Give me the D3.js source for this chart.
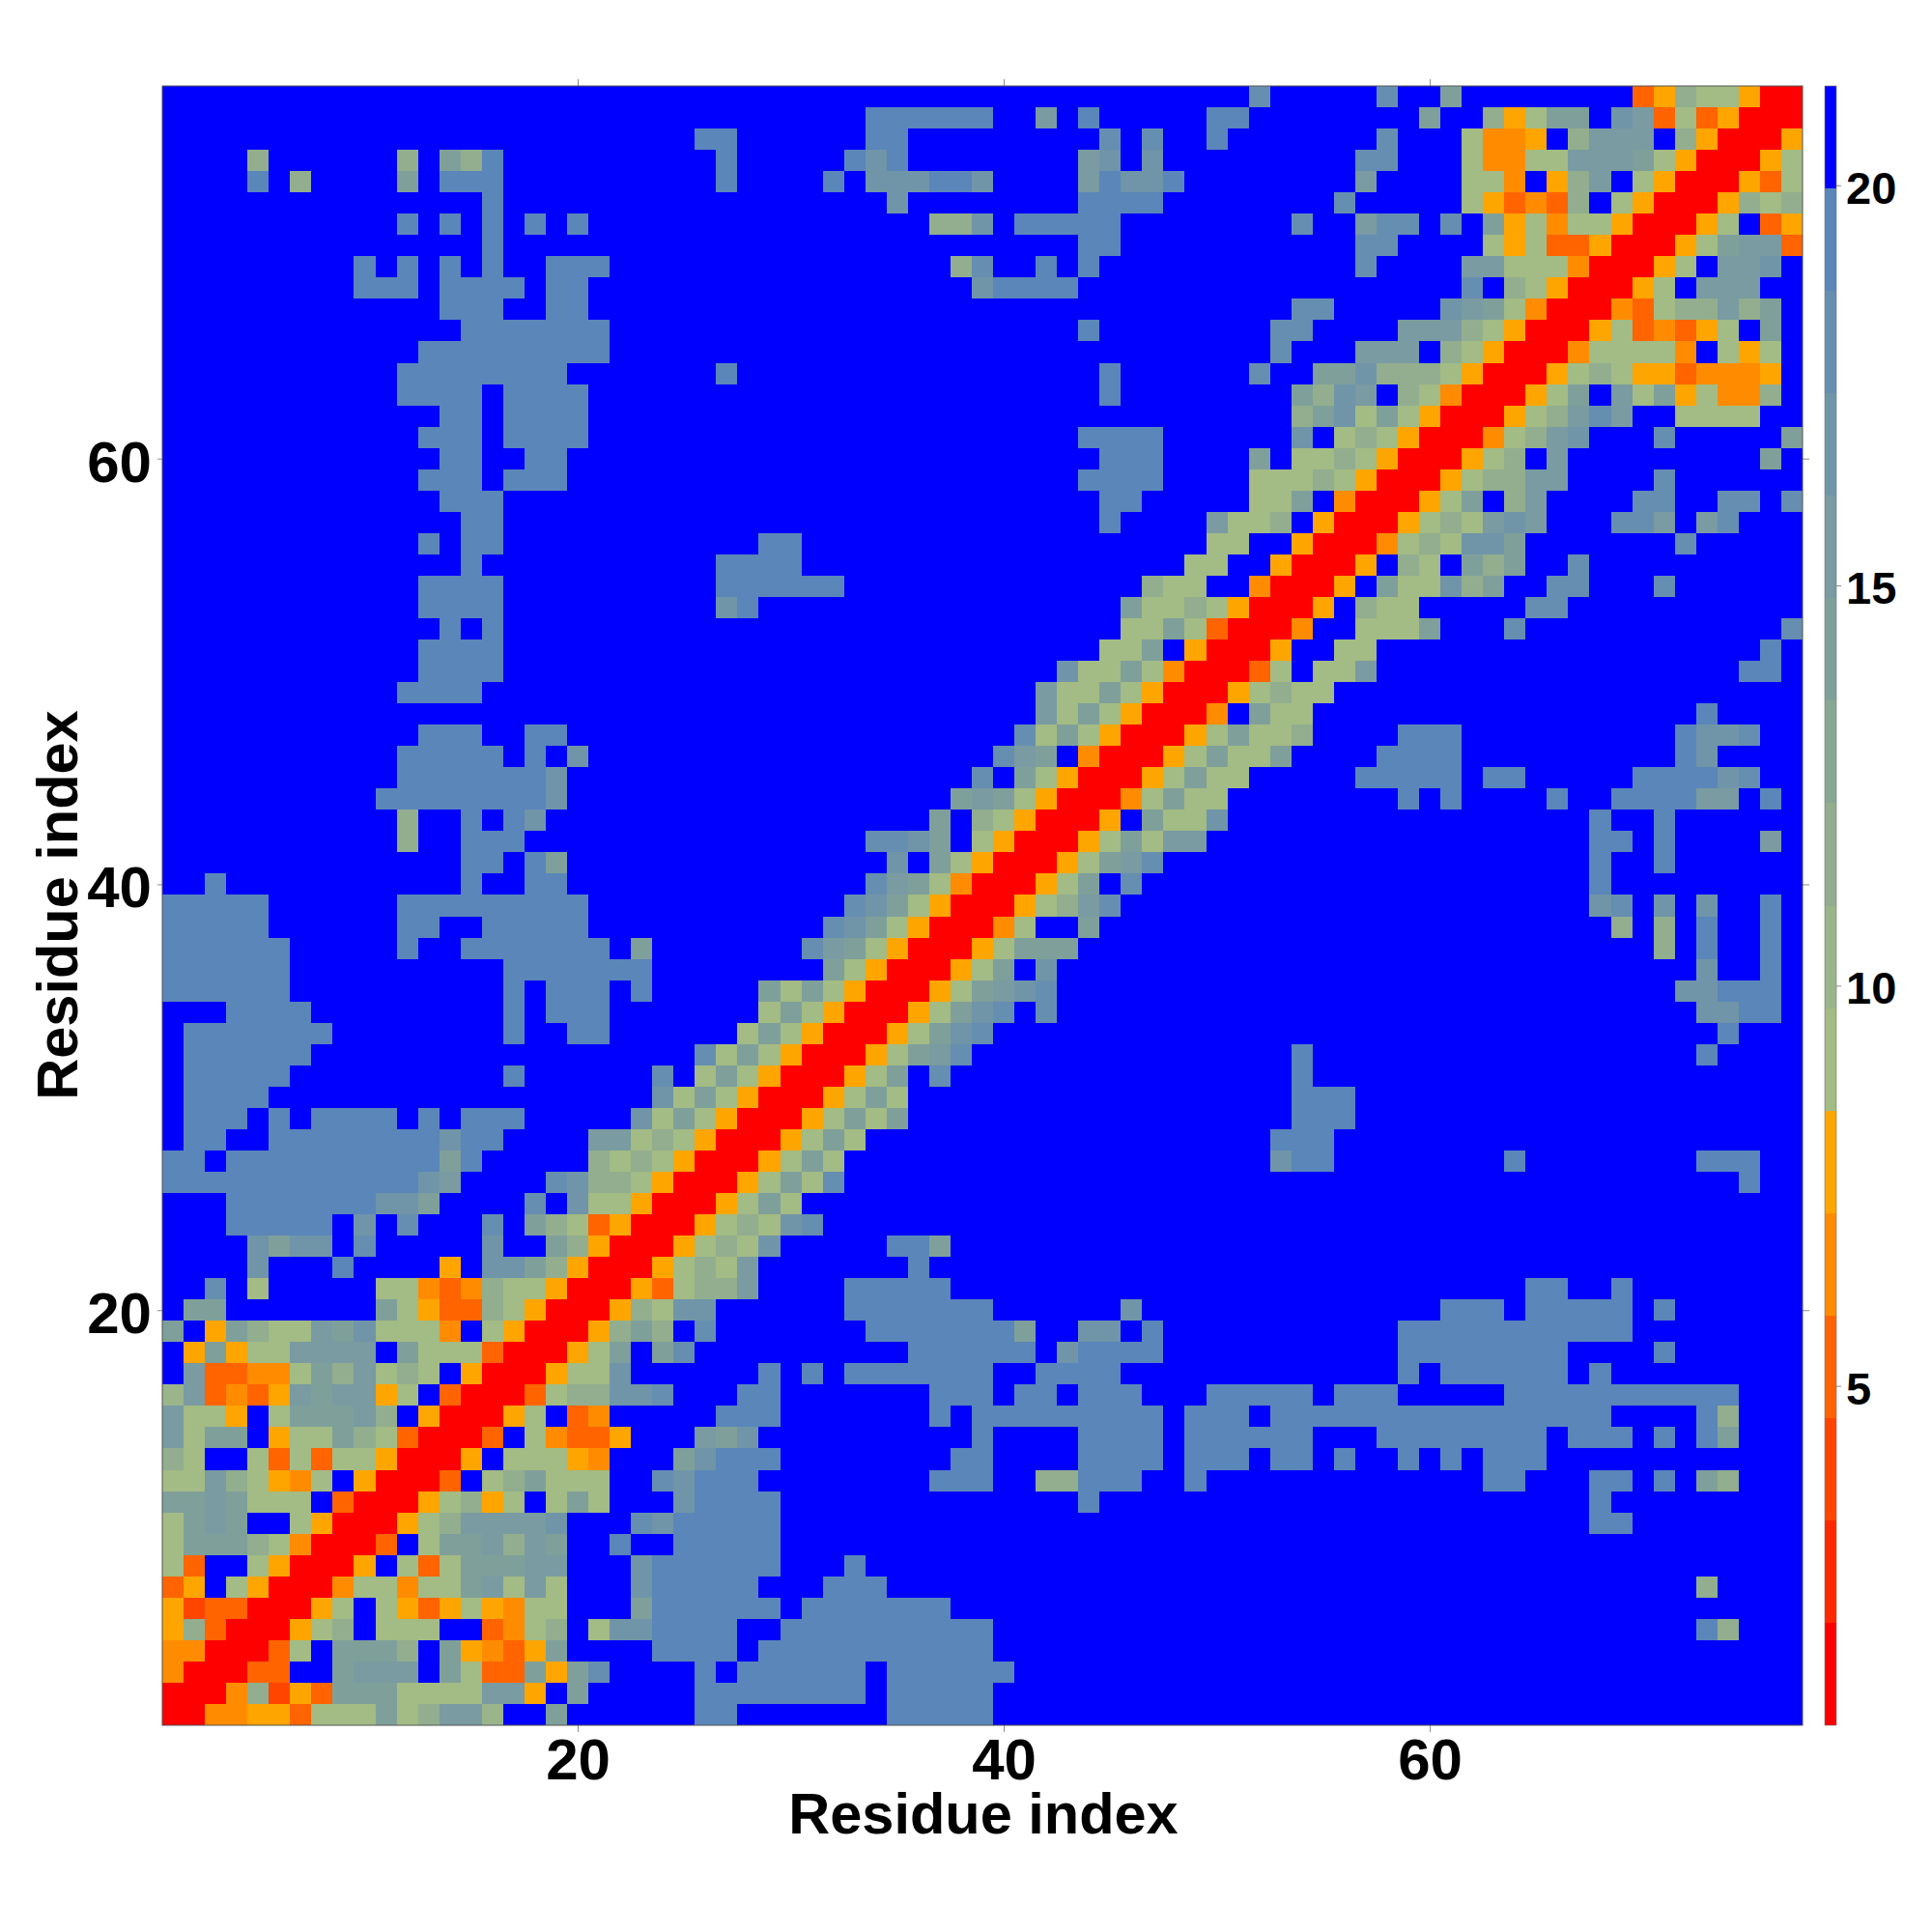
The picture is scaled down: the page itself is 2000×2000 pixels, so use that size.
<!DOCTYPE html>
<html><head><meta charset="utf-8">
<script src="https://d3js.org/d3.v7.min.js"></script>
<style>
html,body{margin:0;padding:0;background:#fff}
svg{display:block}
text{font-family:"Liberation Sans",Arial,sans-serif;font-weight:bold;fill:#000}
</style></head><body><svg id="c" width="2000" height="2000"></svg>
<script>
// Band palette of the colour bar (bottom to top) and its value range
const bandColors=["#ff0000","#ff2800","#ff4500","#ff6400","#ff8c00","#ffa500","#a3bb84","#9ab58a","#92ae8e","#89a893","#7fa09a","#799ba1","#7095a8","#668eb0","#5a86b9","#0000ff"];
const bandCodes="abcdefghijklmnop";
const valueRange=[0.76,21.24];
const axisTicks=[20,40,60];
const barTicks=[5,10,15,20];
const residueCount=77;
const axisTitle="Residue index";
// Upper triangle of the symmetric distance map; each string starts on the diagonal. '.' = top band.
// Rows 1-25: residues from the diagonal to 26, then 27-52, then 53-77
const rowsLowA=["aaeeffdgggkgillh..k......o","aaeicfdkkkggggllf.k.....o","aadd..klll.kgddkfkn....o","aadg.kkki.kfedfk....ooo","aafgi.ggg..degi.gmmooo","aafg.gfdfgfegg...kooo","aaeggeggklglg...mooo","aaf.gdgkkkll...mooo","aad.gkklilk..o..oo","aafgillllm...nmoo","aafgifg.gkg...mo","aad.gikggg..nmo","aaf.gggfe...km","aad.geddf...l","aafg.de.....","aadgiimmn..","aafggm....","aafgk.kn.","aafiki.n","aafigmm","aafdgi","aafgi","aafg","aaf","aa"];
const rowsLowB=["o.......ooooo","ooooooo.ooooo",".oooooo.oooooo","o.ooooooooooo","o..oooooooooo","ooo.ooooooo","oo...ooo","ooo...o","ooo","ooo","ooo..............o","oo........ooo..iiooo..o","ooo........oo....oooo.ooo","km..........o....oooo.oooo","ooo.......o.ooooooooo.ooo",".oo.......ooo.oo.ooo...ooo","..o.o.ooooooo..oooo",".........oooooo.moooo",".......oooooook..mm.o","......ooooooo......m","il....ooooo","gl.......o","igm.....ook","gigmn","fgkg"];
const rowsLowC=["","","","","....................oi","","....................i","","","...............oo","...............o","..........oo...oo.o.ki","oo.o..o.o.ooo","oo...oooooooo.ooo.o.ok","oooooooooooooooo....oi","oo.ooo.....ooooooooooo","......o.oooooo.o","......oooooooo....o","......ooooooooooo","........ooo.ooooo.o","............oo..o","","","",""];
// Rows 26-51: residues from the diagonal to 52, then 53-77
const rowsMidB=["aafgkgn","aafgkg","aafgkg","aafgkgk","aafgkg","aafgk.n","aafgkln","aafgkmn","aafgkmn.n","aafgklmn","aafgk.m","aafgkkk","aaeg..k","aafgiln","aafgk.n","aafgkln","aafgkgll","aaf.kggm","aaegkgg","aafgkgg","aafgkgg","aafgkg","aae.k","aafg","aad","aa"];
const rowsMidC=["......................o","moo........o........ooo","ooo",".ooo",".ooo",".o",".o..................o",".....................o","....................mmoo","...................mmooo","....................m..o","..................i.o..o","................i.i.o..o","...............mn.m.m..o","...............o","...............o..o","...............oo.o....l","...............o..o","......o.o....o..ooooll.o","....ooooo.oo.....oooomn","k....oooo..........om","gi....ooo..........ommn","gg..................o","igg","g.ggl.................oo","f..gg..................o"];
// Rows 52-77: residues from the diagonal to 77
const rowsHigh=["aae..gggk...n............n","aaf.igg.....nn","aaf.kggmik..nn...n","aaf.ig.kik..n","aaegigmmk.......n","aafgiglml...nnl.ln","aafgk.il....nn..nn.n","aafgiill....n","aafgi.l.........k","aaegilm...n.....k","aafgilnl..gggg","aafgk.lgkfgeei","aafgigffdeeef","aaegggge.gfg","aafgdedfg.k","aaedgiilik","aafg.lll","aafg.llm","aafgklld","aafg.df","aafigi","aafdg","aafg","aaf","aa","a"];

const svg=d3.select("#c");
const x=d3.scaleLinear().domain([0.5,residueCount+0.5]).range([168,1866]);
const y=d3.scaleLinear().domain([0.5,residueCount+0.5]).range([1786,89]);
const bar=d3.scaleLinear().domain(valueRange).range([1786,89]);
const color=d3.scaleQuantize().domain(valueRange).range(bandColors);
const bandWidth=(valueRange[1]-valueRange[0])/bandColors.length;
const codeValue=ch=>{const k=ch==="."?15:bandCodes.indexOf(ch);return valueRange[0]+(k+0.5)*bandWidth;};

function rowString(r){
  const pad=(s,n)=>s.padEnd(n,".").slice(0,n);
  if(r<=25) return pad(rowsLowA[r-1],27-r)+pad(rowsLowB[r-1],26)+pad(rowsLowC[r-1],25);
  if(r<=51) return pad(rowsMidB[r-26],53-r)+pad(rowsMidC[r-26],25);
  return pad(rowsHigh[r-52],78-r);
}
const cells=[];
for(let r=1;r<=residueCount;r++){
  const s=rowString(r);
  for(let i=0;i<s.length;i++){
    const c=r+i,v=codeValue(s[i]);
    cells.push({c,r,v});
    if(c!==r) cells.push({c:r,r:c,v});
  }
}
svg.append("g").attr("shape-rendering","crispEdges").selectAll("rect").data(cells).join("rect")
  .attr("x",d=>x(d.c-0.5)).attr("y",d=>y(d.r+0.5))
  .attr("width",d=>x(d.c+0.5)-x(d.c-0.5)).attr("height",d=>y(d.r-0.5)-y(d.r+0.5))
  .attr("fill",d=>color(d.v));

function styleAxis(g,size,dy){
  g.select(".domain").remove();
  g.selectAll(".tick line").attr("stroke","#8a8a8a").attr("stroke-width",1);
  g.selectAll("text").style("font-size",size+"px");
  if(dy) g.selectAll("text").attr("dy",dy);
}
svg.append("g").attr("transform","translate(0,1786)")
  .call(d3.axisBottom(x).tickValues(axisTicks).tickFormat(d3.format("d")).tickSize(7).tickPadding(6)).call(styleAxis,60);
svg.append("g").attr("transform","translate(0,89)")
  .call(d3.axisTop(x).tickValues(axisTicks).tickFormat("").tickSize(7)).call(styleAxis,60);
svg.append("g").attr("transform","translate(168,0)")
  .call(d3.axisLeft(y).tickValues(axisTicks).tickFormat(d3.format("d")).tickSize(5).tickPadding(6)).call(styleAxis,60,"0.39em");
svg.append("g").attr("transform","translate(1866,0)")
  .call(d3.axisRight(y).tickValues(axisTicks).tickFormat("").tickSize(7)).call(styleAxis,60);

svg.append("rect").attr("x",x(0.5)).attr("y",y(residueCount+0.5)).attr("width",x(residueCount+0.5)-x(0.5)).attr("height",y(0.5)-y(residueCount+0.5))
  .attr("fill","none").attr("stroke","#555").attr("stroke-width",1);

// Colour bar
const bands=bandColors.map((col,i)=>({col,lo:valueRange[0]+i*bandWidth,hi:valueRange[0]+(i+1)*bandWidth}));
svg.append("g").attr("shape-rendering","crispEdges").selectAll("rect").data(bands).join("rect")
  .attr("x",1889).attr("width",12).attr("y",d=>bar(d.hi)).attr("height",d=>bar(d.lo)-bar(d.hi)).attr("fill",d=>d.col);
svg.append("rect").attr("x",1889).attr("y",89).attr("width",12).attr("height",1697).attr("fill","none").attr("stroke","#777").attr("stroke-width",0.6);
svg.append("g").attr("transform","translate(1901,0)")
  .call(d3.axisRight(bar).tickValues(barTicks).tickFormat(d3.format("d")).tickSize(5).tickPadding(5)).call(styleAxis,47,"0.39em");

svg.append("text").attr("x",1018).attr("y",1898).attr("text-anchor","middle").style("font-size","59.5px").text(axisTitle);
svg.append("text").attr("transform","translate(80,937) rotate(-90)").attr("text-anchor","middle").style("font-size","59.5px").text(axisTitle);
</script></body></html>
